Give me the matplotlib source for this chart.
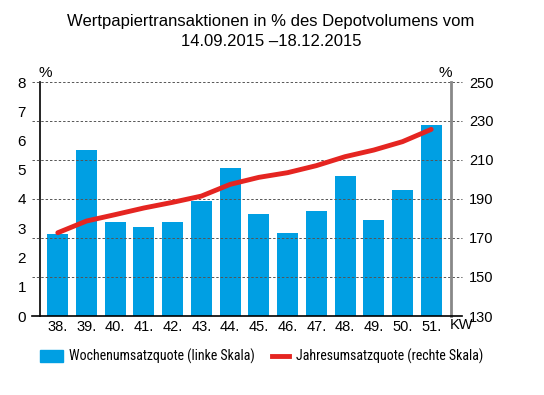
import matplotlib.pyplot as plt
import numpy as np
from matplotlib import font_manager
from matplotlib.lines import Line2D

plt.rcParams["font.family"] = ["Liberation Sans", "DejaVu Sans"]

# Daten
wochen = ["38.", "39.", "40.", "41.", "42.", "43.", "44.", "45.", "46.", "47.", "48.", "49.", "50.", "51."]
wochenquote = [2.80, 5.67, 3.22, 3.05, 3.22, 3.93, 5.05, 3.49, 2.85, 3.59, 4.80, 3.29, 4.30, 6.54]
jahresquote = [172.7, 178.7, 182.0, 185.4, 188.3, 191.5, 197.5, 201.1, 203.5, 207.1, 211.7, 215.1, 219.4, 225.7]
links_ticks = [0, 1, 2, 3, 4, 5, 6, 7, 8]
rechts_ticks = [130, 150, 170, 190, 210, 230, 250]

BLAU = "#009fe3"
ROT = "#e52521"

# schmale Schrift fuer Legende, falls vorhanden
namen = {f.name for f in font_manager.fontManager.ttflist}
schmal = next((n for n in ["Liberation Sans Narrow", "Arial Narrow", "Roboto Condensed",
                           "Open Sans Condensed", "DejaVu Sans Condensed"] if n in namen), None)
if schmal:
    leg_font = dict(family=[schmal, "Liberation Sans"], fontsize=10)
else:
    leg_font = dict(fontsize=7.2)

fig = plt.figure(figsize=(5.44, 3.95), dpi=100)
ax = fig.add_axes([40 / 544, 79 / 395, 411 / 544, 234 / 395])
ax2 = ax.twinx()

x = np.arange(len(wochen))

# Gitterlinien nach rechter Skala, etwas ueber die Achsen hinaus
for v in rechts_ticks[1:]:
    ax2.add_line(Line2D([-0.02, 1.027], [v, v], transform=ax2.get_yaxis_transform(),
                        color="#555555", lw=0.7, ls=(0, (2.5, 2)), clip_on=False, zorder=0))
ax2.add_line(Line2D([-0.02, 1.027], [130, 130], transform=ax2.get_yaxis_transform(),
                    color="black", lw=1.2, clip_on=False, zorder=5))

ax.bar(x, wochenquote, width=0.73, color=BLAU, zorder=2)
ax2.plot(x, jahresquote, color=ROT, lw=3.5, solid_capstyle="round", zorder=4)

ax.set_xlim(-0.62, 13.69)
ax.set_ylim(0, 8)
ax2.set_ylim(130, 250)

ax.set_yticks(links_ticks)
ax.tick_params(axis="y", length=0, pad=10, labelsize=11)
ax2.set_yticks(rechts_ticks)
ax2.tick_params(axis="y", length=0, pad=13, labelsize=10.5)

ax.set_xticks(x)
ax.set_xticklabels(wochen)
ax.tick_params(axis="x", length=0, pad=3, labelsize=10.5)

for a in (ax, ax2):
    a.spines["top"].set_visible(False)
    a.spines["bottom"].set_visible(False)
ax.spines["right"].set_visible(False)
ax2.spines["left"].set_visible(False)
ax.spines["left"].set_color("black")
ax.spines["left"].set_linewidth(1.2)
ax2.spines["right"].set_color("#888888")
ax2.spines["right"].set_linewidth(2)
ax.set_zorder(ax2.get_zorder() - 1)
ax2.patch.set_visible(False)

fig.text(450 / 544, 1 - 325 / 395, "KW", fontsize=10.5, va="center", ha="left")
fig.text(45 / 544, 1 - 73 / 395, "%", fontsize=11, va="center", ha="center")
fig.text(445 / 544, 1 - 73 / 395, "%", fontsize=11, va="center", ha="center")

fig.text(271 / 544, 1 - 31.5 / 395,
         "Wertpapiertransaktionen in % des Depotvolumens vom\n14.09.2015 \u201318.12.2015",
         fontsize=12, ha="center", va="center", linespacing=1.38)

# Legende
fig.patches.append(plt.Rectangle((40 / 544, 1 - 362 / 395), 23 / 544, 12 / 395,
                                 transform=fig.transFigure, color=BLAU))
fig.text(69 / 544, 1 - 356 / 395, "Wochenumsatzquote (linke Skala)", va="center", **leg_font)
fig.add_artist(Line2D([272 / 544, 289 / 544], [1 - 356 / 395, 1 - 356 / 395],
                      transform=fig.transFigure, color=ROT, lw=3.5))
fig.text(296 / 544, 1 - 356 / 395, "Jahresumsatzquote (rechte Skala)", va="center", **leg_font)

fig.savefig("out.png", dpi=100)
